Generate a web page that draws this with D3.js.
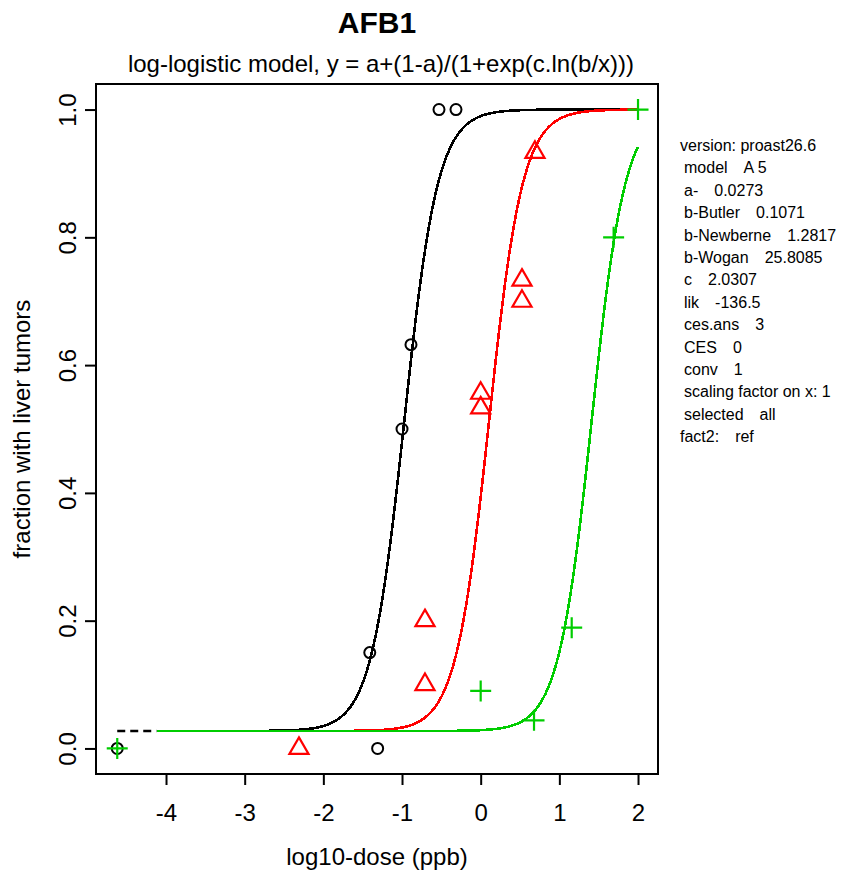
<!DOCTYPE html>
<html>
<head>
<meta charset="utf-8">
<script src="https://cdn.jsdelivr.net/npm/d3@7"></script>
<style>
  html, body { margin: 0; padding: 0; background: #fff; }
  svg { display: block; font-family: "Liberation Sans", Arial, Helvetica, sans-serif; }
</style>
</head>
<body>
<svg id="chart" width="866" height="872"></svg>
<script>
// Fitted log-logistic model parameters (PROAST, model A 5)
const paramA = 0.0273;
const paramC = 2.0307;
const groups = ["Butler", "Newberne", "Wogan"];
const paramB = [0.1071, 1.2817, 25.8085];
const groupColors = ["#000000", "#FF0000", "#00CD00"];

// Observed fractions per study (x = log10 dose, zero dose drawn at the far left)
const butlerX = [-4.62, -1.41, -1.31, -1.00, -0.886, -0.53, -0.314];
const butlerY = [0, 0.15, 0, 0.50, 0.632, 1.0, 1.0];
const newberneX = [-2.31, -0.708, -0.708, 0.0, 0.0, 0.525, 0.525, 0.69];
const newberneY = [0, 0.20, 0.10, 0.556, 0.533, 0.733, 0.70, 0.933];
const woganX = [-4.62, 0.0, 0.678, 1.157, 1.69, 2.0];
const woganY = [0, 0.09, 0.044, 0.189, 0.80, 1.0];

const xTicks = [-4, -3, -2, -1, 0, 1, 2];
const yTicks = [0, 0.2, 0.4, 0.6, 0.8, 1.0];
const yTickLabels = ["0.0", "0.2", "0.4", "0.6", "0.8", "1.0"];

const zeroDoseX = -4.62;
const curveStart = -4.12;
const curveEnd = 2.0;

const infoLines = [
  { label: "version: proast26.6", value: null, indent: false },
  { label: "model", value: "A 5", indent: true },
  { label: "a-", value: "0.0273", indent: true },
  { label: "b-Butler", value: "0.1071", indent: true },
  { label: "b-Newberne", value: "1.2817", indent: true },
  { label: "b-Wogan", value: "25.8085", indent: true },
  { label: "c", value: "2.0307", indent: true },
  { label: "lik", value: "-136.5", indent: true },
  { label: "ces.ans", value: "3", indent: true },
  { label: "CES", value: "0", indent: true },
  { label: "conv", value: "1", indent: true },
  { label: "scaling factor on x: 1", value: null, indent: true },
  { label: "selected", value: "all", indent: true },
  { label: "fact2:", value: "ref", indent: false }
];

const svg = d3.select("#chart");
const box = { left: 96, right: 658, top: 84, bottom: 774 };

const x = d3.scaleLinear().domain([-4.89, 2.254]).range([box.left, box.right]);
const y = d3.scaleLinear().domain([-0.04, 1.04]).range([box.bottom, box.top]);

// log-logistic response: y = a + (1-a)/(1+exp(c*ln(b/dose)))
function model(logDose, b) {
  const dose = Math.pow(10, logDose);
  return paramA + (1 - paramA) / (1 + Math.exp(paramC * Math.log(b / dose)));
}

// Titles
svg.append("text")
  .attr("x", 377).attr("y", 33)
  .attr("text-anchor", "middle")
  .attr("font-size", 30).attr("font-weight", "bold")
  .text("AFB1");

svg.append("text")
  .attr("x", 381).attr("y", 72)
  .attr("text-anchor", "middle")
  .attr("font-size", 24)
  .text("log-logistic model, y = a+(1-a)/(1+exp(c.ln(b/x)))");

// Axes
const xAxis = d3.axisBottom(x).tickValues(xTicks).tickSize(11).tickPadding(19)
  .tickFormat(d3.format("d"));
const gx = svg.append("g").attr("transform", `translate(0,${box.bottom})`).call(xAxis);
gx.select(".domain").remove();
gx.selectAll("line").attr("stroke", "#000").attr("stroke-width", 2);
gx.selectAll("text").attr("font-size", 24).attr("font-family", null).attr("fill", "#000")
  .text(d => d < 0 ? "-" + Math.abs(d) : String(d));

const yAxis = d3.axisLeft(y).tickValues(yTicks).tickSize(11)
  .tickFormat((d, i) => yTickLabels[i]);
const gy = svg.append("g").attr("transform", `translate(${box.left},0)`).call(yAxis);
gy.select(".domain").remove();
gy.selectAll("line").attr("stroke", "#000").attr("stroke-width", 2);
gy.selectAll("text")
  .attr("font-size", 24).attr("font-family", null).attr("fill", "#000")
  .attr("x", null).attr("dy", null)
  .attr("text-anchor", "middle")
  .attr("transform", "translate(-20,0) rotate(-90)");

// Axis titles
svg.append("text")
  .attr("x", (box.left + box.right) / 2).attr("y", 865)
  .attr("text-anchor", "middle").attr("font-size", 24)
  .text("log10-dose (ppb)");

svg.append("text")
  .attr("transform", `translate(30,${(box.top + box.bottom) / 2}) rotate(-90)`)
  .attr("text-anchor", "middle").attr("font-size", 24)
  .text("fraction with liver tumors");

// Plot frame
svg.append("rect")
  .attr("x", box.left).attr("y", box.top)
  .attr("width", box.right - box.left).attr("height", box.bottom - box.top)
  .attr("fill", "none").attr("stroke", "#000").attr("stroke-width", 2);

const plotArea = svg.append("g");

// Dashed segment linking the zero-dose level
plotArea.append("line")
  .attr("x1", x(zeroDoseX)).attr("x2", x(curveStart))
  .attr("y1", y(paramA)).attr("y2", y(paramA))
  .attr("stroke", "#000").attr("stroke-width", 2.5)
  .attr("stroke-dasharray", "8,5");

// Fitted curves, one per study
const curveXs = d3.range(0, 601).map(i => curveStart + (curveEnd - curveStart) * i / 600);
const line = d3.line().x(d => x(d[0])).y(d => y(d[1]));
groups.forEach((g, gi) => {
  const pts = curveXs.map(v => [v, model(v, paramB[gi])]);
  plotArea.append("path")
    .attr("d", line(pts))
    .attr("fill", "none")
    .attr("stroke", groupColors[gi])
    .attr("stroke-width", 2.6)
    .attr("shape-rendering", "crispEdges");
});

// Observations
const butlerPts = butlerX.map((v, i) => [v, butlerY[i]]);
const newPts = newberneX.map((v, i) => [v, newberneY[i]]);
const woganPts = woganX.map((v, i) => [v, woganY[i]]);

plotArea.selectAll(".butler").data(butlerPts).enter().append("circle")
  .attr("cx", d => x(d[0])).attr("cy", d => y(d[1])).attr("r", 5.5)
  .attr("fill", "none").attr("stroke", groupColors[0]).attr("stroke-width", 2);

const s = 7.1;
const triPath = `M0,${-1.555 * s}L${1.347 * s},${0.778 * s}L${-1.347 * s},${0.778 * s}Z`;
plotArea.selectAll(".newberne").data(newPts).enter().append("path")
  .attr("d", triPath)
  .attr("transform", d => `translate(${x(d[0])},${y(d[1])})`)
  .attr("fill", "none").attr("stroke", groupColors[1]).attr("stroke-width", 2.2);

const h = 10.5;
plotArea.selectAll(".wogan").data(woganPts).enter().append("path")
  .attr("d", `M${-h},0H${h}M0,${-h}V${h}`)
  .attr("transform", d => `translate(${x(d[0])},${y(d[1])})`)
  .attr("fill", "none").attr("stroke", groupColors[2]).attr("stroke-width", 2.2);

// Model summary text
const info = svg.append("g").attr("font-size", 16);
infoLines.forEach((ln, i) => {
  const t = info.append("text")
    .attr("x", ln.indent ? 684 : 680)
    .attr("y", 151 + i * 22.4);
  t.append("tspan").text(ln.label);
  if (ln.value !== null) t.append("tspan").attr("dx", 16).text(ln.value);
});
</script>
</body>
</html>
